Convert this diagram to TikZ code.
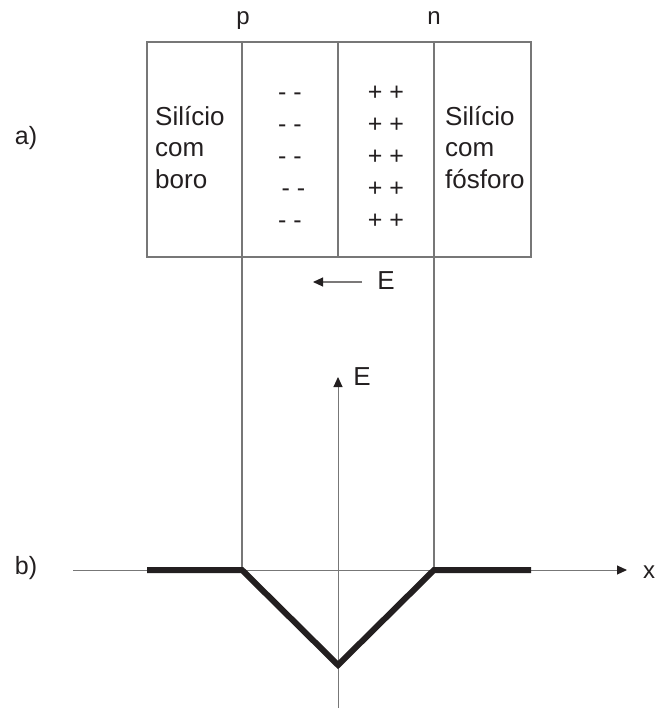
\documentclass[tikz,border=0pt]{standalone}
\usepackage{fontspec}
\setmainfont{Liberation Sans}
\usetikzlibrary{arrows.meta}
\definecolor{ink}{HTML}{231F20}
\definecolor{linegray}{HTML}{777777}
\begin{document}
\begin{tikzpicture}[x=1pt,y=-1pt,
  thinline/.style={draw=linegray,line width=1.1pt},
  axisline/.style={draw=linegray,line width=1pt},
  arrowtip/.style={-{Triangle[length=10pt,width=9pt,color=ink]}},
  boxtext/.style={inner sep=0pt,text=ink,font=\fontsize{26}{31.5}\selectfont,align=left,anchor=north west},
  chargetext/.style={inner sep=0pt,text=ink,font=\fontsize{25}{32}\selectfont,align=center,anchor=north},
  labeltext/.style={inner sep=0pt,text=ink,font=\fontsize{24}{28}\selectfont},
  curve/.style={draw=ink,line width=6pt,line join=miter}]
\useasboundingbox (0,0) rectangle (657,711);
% box
\coordinate (boxTL) at (147,42);
\coordinate (boxBR) at (531,257);
\draw[thinline] (boxTL) rectangle (boxBR);
\coordinate (pTop) at (242,42);
\coordinate (mTop) at (338,42);
\coordinate (mBot) at (338,257);
\coordinate (nTop) at (434,42);
\coordinate (pAx) at (242,570);
\coordinate (nAx) at (434,570);
\draw[thinline] (pTop) -- (pAx);
\draw[thinline] (nTop) -- (nAx);
\draw[thinline] (mTop) -- (mBot);
% labels
\node[labeltext,anchor=base] (p) at (243,25) {p};
\node[labeltext,anchor=base] (n) at (434,25) {n};
\node[labeltext,font=\fontsize{25}{28}\selectfont] (a) at (26,138) {a)};
\node[labeltext,font=\fontsize{25}{28}\selectfont] (b) at (26,568) {b)};
% box texts
\node[boxtext] (left) at (155,106) {Silício\\com\\boro};
\node[boxtext] (right) at (445,106) {Silício\\com\\fósforo};
\node[chargetext] (minus) at (290,77.6) {\strut- -\\\strut- -\\\strut- -\\\strut\hspace{7pt}- -\\\strut- -};
\node[chargetext] (plus) at (386,77.6) {\strut+ +\\\strut+ +\\\strut+ +\\\strut+ +\\\strut+ +};
% field arrow
\coordinate (Estart) at (362,282);
\coordinate (Eend) at (313,282);
\draw[thinline,arrowtip,draw=ink!60] (Estart) -- (Eend);
\node[labeltext,font=\fontsize{26}{30}\selectfont] (E1) at (386,281) {E};
% axes
\coordinate (xL) at (73,570);
\coordinate (xR) at (627,570);
\draw[axisline,arrowtip] (xL) -- (xR);
\node[labeltext] (xlab) at (649,572) {x};
\coordinate (yB) at (338,708);
\coordinate (yT) at (338,377);
\draw[axisline,arrowtip] (yB) -- (yT);
\node[labeltext,font=\fontsize{26}{30}\selectfont] (E2) at (362,377) {E};
% field curve
\coordinate (c1) at (147,570);
\coordinate (c5) at (531,570);
\coordinate (cv) at (338,665);
\draw[curve] (c1) -- (pAx) -- (cv) -- (nAx) -- (c5);
\end{tikzpicture}
\end{document}
